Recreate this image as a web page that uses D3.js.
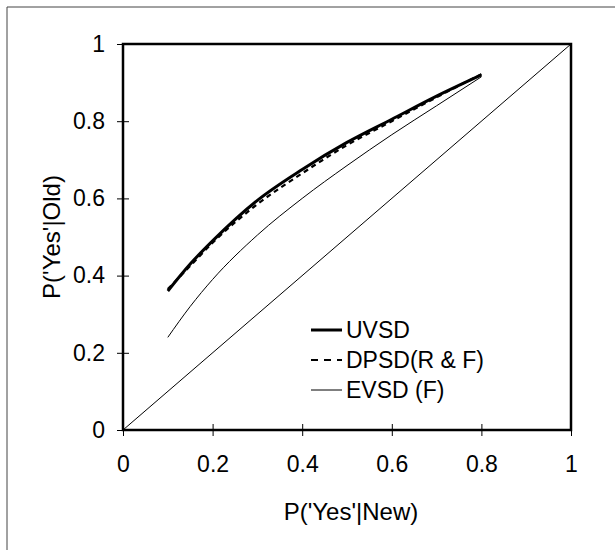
<!DOCTYPE html>
<html>
<head>
<meta charset="utf-8">
<script src="https://cdn.jsdelivr.net/npm/d3@7"></script>
<style>
  body { margin: 0; background: #fff; }
  svg { display: block; }
  text { font-family: "Liberation Sans", Arial, sans-serif; fill: #000; }
</style>
</head>
<body>
<div id="chart"></div>
<script>
// P('Yes'|New) positions at which the curves were read
var falseAlarms = [0.1, 0.15, 0.2, 0.3, 0.4, 0.5, 0.6, 0.7, 0.8];
// P('Yes'|Old)
var uvsdHits = [0.36, 0.43, 0.49, 0.595, 0.675, 0.745, 0.805, 0.865, 0.92];
var dpsdHits = [0.365, 0.425, 0.485, 0.585, 0.665, 0.738, 0.80, 0.862, 0.922];
var evsdHits = [0.24, 0.32, 0.39, 0.505, 0.60, 0.685, 0.765, 0.84, 0.915];
var tickValues = [0, 0.2, 0.4, 0.6, 0.8, 1];
var legendNames = ["UVSD", "DPSD(R & F)", "EVSD (F)"];

var W = 615, H = 552;
var plotLeft = 123, plotRight = 571, plotTop = 44, plotBottom = 430;

var svg = d3.select("#chart").append("svg")
  .attr("width", W)
  .attr("height", H);

// outer frame (only top and left edges show in the scan)
svg.append("path")
  .attr("d", `M7,${H - 2} V7 H${W}`)
  .attr("fill", "none")
  .attr("stroke", "#444")
  .attr("stroke-width", 1);

var x = d3.scaleLinear().domain([0, 1]).range([plotLeft, plotRight]);
var y = d3.scaleLinear().domain([0, 1]).range([plotBottom, plotTop]);

// axes, ticks crossing the frame
var xAxis = svg.append("g")
  .attr("transform", `translate(0,${plotBottom})`)
  .call(d3.axisBottom(x).tickValues(tickValues).tickFormat(d3.format("")).tickSize(6).tickPadding(20));
xAxis.selectAll(".tick line").attr("y1", -6);

var yAxis = svg.append("g")
  .attr("transform", `translate(${plotLeft},0)`)
  .call(d3.axisLeft(y).tickValues(tickValues).tickFormat(d3.format("")).tickSize(6).tickPadding(12));
yAxis.selectAll(".tick line").attr("x1", 6);

svg.selectAll(".domain").remove();
svg.selectAll(".tick line").attr("stroke", "#000").attr("stroke-width", 1);
svg.selectAll(".tick text").attr("font-size", 23).attr("fill", "#000");

// plot frame
svg.append("rect")
  .attr("x", plotLeft).attr("y", plotTop)
  .attr("width", plotRight - plotLeft).attr("height", plotBottom - plotTop)
  .attr("fill", "none")
  .attr("stroke", "#000")
  .attr("stroke-width", 2.5);

// chance diagonal
svg.append("line")
  .attr("x1", x(0)).attr("y1", y(0))
  .attr("x2", x(1)).attr("y2", y(1))
  .attr("stroke", "#000")
  .attr("stroke-width", 1);

var line = d3.line()
  .x(function(d) { return x(d[0]); })
  .y(function(d) { return y(d[1]); })
  .curve(d3.curveMonotoneX);

var series = [
  { name: legendNames[0], hits: uvsdHits, width: 3, dash: null },
  { name: legendNames[1], hits: dpsdHits, width: 2.2, dash: "5,4" },
  { name: legendNames[2], hits: evsdHits, width: 1, dash: null }
];

series.forEach(function(s) {
  svg.append("path")
    .datum(d3.zip(falseAlarms, s.hits))
    .attr("d", line)
    .attr("fill", "none")
    .attr("stroke", "#000")
    .attr("stroke-width", s.width)
    .attr("stroke-dasharray", s.dash);
});

// legend
var legend = svg.append("g").attr("transform", "translate(311,330)");
series.forEach(function(s, i) {
  var g = legend.append("g").attr("transform", `translate(0,${i * 30})`);
  g.append("line")
    .attr("x1", 0).attr("x2", 31)
    .attr("y1", 0).attr("y2", 0)
    .attr("stroke", "#000")
    .attr("stroke-width", s.width)
    .attr("stroke-dasharray", s.dash === null ? null : "7,6");
  g.append("text")
    .attr("x", 35).attr("y", 8)
    .attr("font-size", 23)
    .text(s.name);
});

// axis titles
svg.append("text")
  .attr("x", (plotLeft + plotRight) / 2 + 4)
  .attr("y", 520)
  .attr("text-anchor", "middle")
  .attr("font-size", 24)
  .text("P('Yes'|New)");

svg.append("text")
  .attr("transform", `translate(60,${(plotTop + plotBottom) / 2}) rotate(-90)`)
  .attr("text-anchor", "middle")
  .attr("font-size", 24)
  .text("P('Yes'|Old)");
</script>
</body>
</html>
